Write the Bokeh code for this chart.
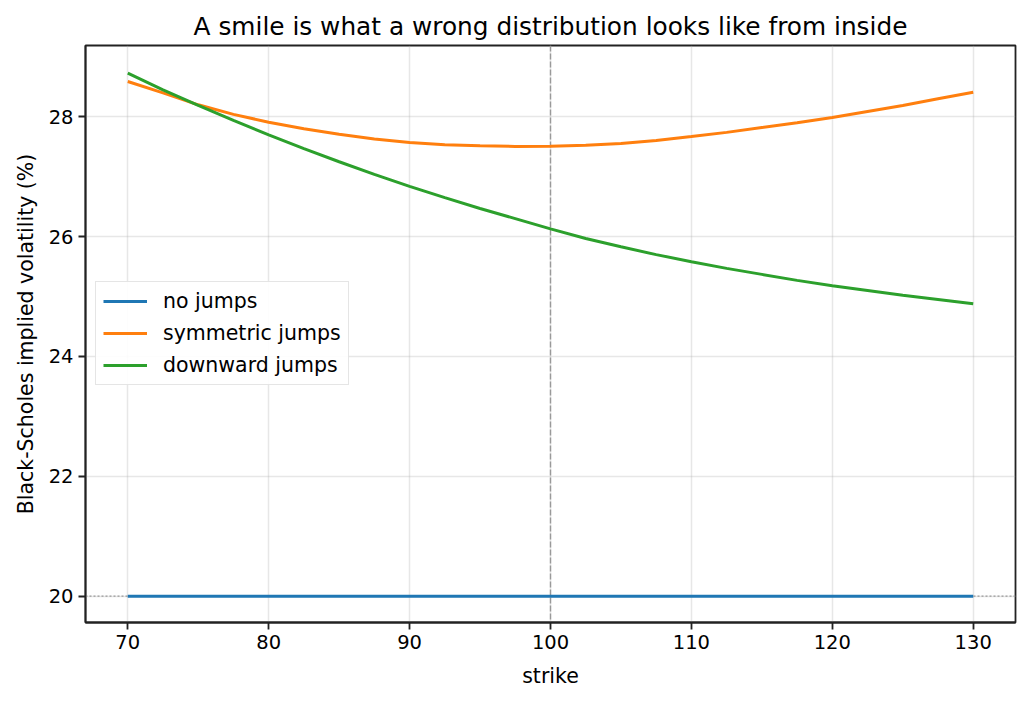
from bokeh.plotting import figure
from bokeh.models import Range1d, Span, Legend, LegendItem, FixedTicker
from bokeh.embed import file_html
from bokeh.resources import INLINE

strike = [70, 72.5, 75, 77.5, 80, 82.5, 85, 87.5, 90, 92.5, 95, 97.5, 100,
          102.5, 105, 107.5, 110, 112.5, 115, 117.5, 120, 122.5, 125, 127.5, 130]
no_jumps = [20.0] * 25
symmetric_jumps = [28.59, 28.40, 28.20, 28.04, 27.91, 27.80, 27.71, 27.63, 27.57, 27.535, 27.515, 27.505, 27.51,
                   27.525, 27.555, 27.605, 27.67, 27.74, 27.82, 27.90, 27.99, 28.09, 28.19, 28.30, 28.41]
downward_jumps = [28.73, 28.45, 28.19, 27.94, 27.70, 27.47, 27.25, 27.04, 26.84, 26.65, 26.47, 26.30, 26.13,
                  25.97, 25.83, 25.70, 25.58, 25.47, 25.37, 25.27, 25.18, 25.10, 25.02, 24.95, 24.88]
x_ticks = [70, 80, 90, 100, 110, 120, 130]
y_ticks = [20, 22, 24, 26, 28]

FONT = "DejaVu Sans"

p = figure(width=1029, height=703, output_backend="svg", toolbar_location=None,
           x_range=Range1d(67, 133), y_range=Range1d(19.56, 29.19),
           min_border_left=85, min_border_right=14, min_border_top=45, min_border_bottom=81,
           title="A smile is what a wrong distribution looks like from inside")
p.title.align = "center"
p.title.text_font = FONT
p.title.text_font_size = "24.8px"
p.title.text_font_style = "normal"
p.title.text_color = "black"
p.title.offset = 0
p.title.standoff = 9

p.outline_line_color = "#222222"
p.outline_line_width = 1.8
p.background_fill_color = "white"
p.border_fill_color = "white"

for ax in (p.xaxis, p.yaxis):
    ax.major_tick_out = 7
    ax.major_tick_in = 0
    ax.minor_tick_line_color = None
    ax.major_label_text_font = FONT
    ax.major_label_text_font_size = "19.5px"
    ax.major_label_text_color = "black"
    ax.axis_label_text_font = FONT
    ax.axis_label_text_font_size = "20.5px"
    ax.axis_label_text_font_style = "normal"
    ax.axis_label_text_color = "black"
    ax.axis_line_color = "#222222"
    ax.axis_line_width = 1.8
    ax.major_tick_line_color = "#222222"
    ax.major_tick_line_width = 1.8
    ax.major_label_standoff = 5

p.xaxis.ticker = FixedTicker(ticks=x_ticks)
p.yaxis.ticker = FixedTicker(ticks=y_ticks)
p.xaxis.axis_label = "strike"
p.yaxis.axis_label = "Black-Scholes implied volatility (%)"
p.xaxis.axis_label_standoff = 12
p.yaxis.axis_label_standoff = 8

p.xgrid.grid_line_color = "#b0b0b0"
p.ygrid.grid_line_color = "#b0b0b0"
p.xgrid.grid_line_alpha = 0.3
p.ygrid.grid_line_alpha = 0.3
p.xgrid.grid_line_width = 1.5
p.ygrid.grid_line_width = 1.5

p.add_layout(Span(location=20, dimension="width", line_color="#999999",
                  line_dash="2 2", line_width=1.3, level="underlay"))
p.add_layout(Span(location=100, dimension="height", line_color="#999999",
                  line_dash="6 2", line_width=1.4, level="underlay"))

r1 = p.line(strike, no_jumps, line_color="#1f77b4", line_width=3)
r2 = p.line(strike, symmetric_jumps, line_color="#ff7f0e", line_width=3)
r3 = p.line(strike, downward_jumps, line_color="#2ca02c", line_width=3)

legend = Legend(items=[LegendItem(label="no jumps", renderers=[r1]),
                       LegendItem(label="symmetric jumps", renderers=[r2]),
                       LegendItem(label="downward jumps", renderers=[r3])],
                location=(10, 237))
legend.label_text_font = FONT
legend.label_text_font_size = "20.5px"
legend.label_text_color = "black"
legend.glyph_width = 44
legend.glyph_height = 20
legend.label_height = 20
legend.label_standoff = 16
legend.spacing = 8
legend.padding = 7
legend.margin = 0
legend.border_line_color = "#cccccc"
legend.border_line_width = 1.5
legend.background_fill_alpha = 0.9
p.add_layout(legend)

open("out.html", "w").write(file_html(p, INLINE))
